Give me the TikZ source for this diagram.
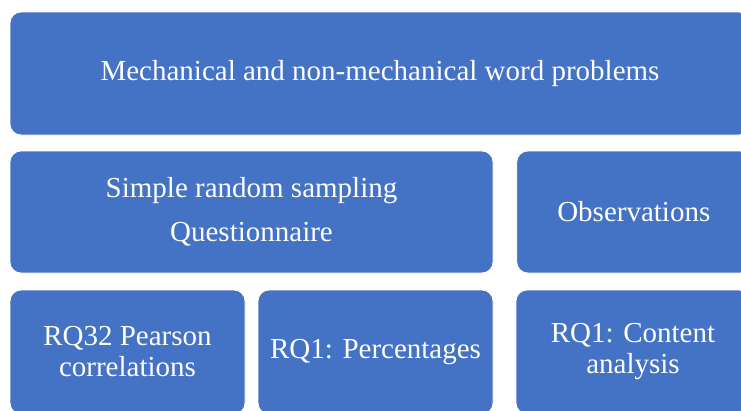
\documentclass[tikz,border=0pt]{standalone}
\usepackage{fontspec}
\setmainfont{Liberation Serif}
\usetikzlibrary{positioning}
\definecolor{boxblue}{HTML}{4472C4}
\begin{document}
\begin{tikzpicture}[x=1pt, y=-1pt,
        cell/.style={draw=white, line width=0.8pt, fill=boxblue, rounded corners=11pt,
            text=white, align=center, font=\fontsize{29}{31}\selectfont, inner sep=0pt}]
        \useasboundingbox (0,0) rectangle (741,410);
        \clip (0,0) rectangle (741,410);
        % Top row
        \node[cell, minimum width=740pt, minimum height=123pt] (mech) at (380,73.5) {Mechanical and non-mechanical word problems};
        % Middle row
        \node[cell, minimum width=483pt, minimum height=122pt] (samp) at (251.5,212) {Simple random sampling\\[13pt]Questionnaire};
        \node[cell, minimum width=234pt, minimum height=122pt, right=23pt of samp] (obs) {Observations};
        % Bottom row
        \node[cell, minimum width=235pt, minimum height=124pt] (pear) at (127.5,352) {RQ32 Pearson\\correlations};
        \node[cell, minimum width=235pt, minimum height=124pt] (perc) at (375.5,352) {RQ1: Percentages};
        \node[cell, minimum width=234pt, minimum height=124pt] (cont) at (633,352) {RQ1: Content\\analysis};
\end{tikzpicture}
\end{document}
